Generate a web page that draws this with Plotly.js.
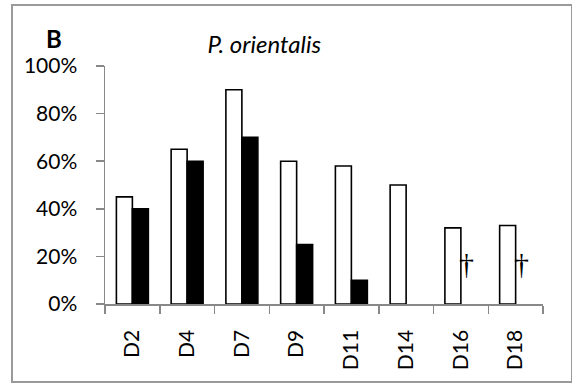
<!DOCTYPE html>
<html>
<head>
<meta charset="utf-8">
<script src="https://cdn.plot.ly/plotly-3.0.1.min.js"></script>
<style>
html,body{margin:0;padding:0;background:#fff;}
#wrap{position:relative;width:572px;height:383px;}
#chart{width:572px;height:383px;}
#frame{position:absolute;left:11px;top:4px;width:558px;height:375px;border:2px solid #9a9a9a;pointer-events:none;}
</style>
</head>
<body>
<div id="wrap"><div id="chart"></div><div id="frame"></div></div>
<script>
const categories = ['D2','D4','D7','D9','D11','D14','D16','D18'];
const seriesA = [0.45, 0.65, 0.90, 0.60, 0.58, 0.50, 0.32, 0.33];
const seriesB = [0.40, 0.60, 0.70, 0.25, 0.10, 0, null, null];
const markCategories = ['D16','D18'];
const markText = ['\u2020','\u2020'];
const markLevel = [0.17, 0.17];
const titleText = '<i>P. orientalis</i>';
const panelLabel = '<b>B</b>';

const FONT = 'Lato, "Open Sans", sans-serif';

const traces = [
  {type:'bar', x:categories, y:seriesA, marker:{color:'#ffffff', line:{color:'#000', width:1.6}}, hoverinfo:'none'},
  {type:'bar', x:categories, y:seriesB, marker:{color:'#000000',
    line:{color:'#000', width:seriesB.map(v => v ? 1.6 : 0)}}, hoverinfo:'none'}
];

const annotations = markCategories.map((c,i)=>({
  x:c, y:markLevel[i], xref:'x', yref:'y', text:markText[i], showarrow:false,
  xanchor:'center', yanchor:'middle',
  xshift:6, font:{family:'"Liberation Serif", serif', size:30, color:'#000'}
}));
annotations.push({x:-0.116, y:1.115, xref:'paper', yref:'paper', text:panelLabel, showarrow:false,
  xanchor:'center', yanchor:'middle',
  font:{family:FONT, size:24, color:'#000'}});

const layout = {
  width:572, height:383,
  margin:{l:105, r:29, t:66, b:79, pad:0},
  paper_bgcolor:'#fff', plot_bgcolor:'#fff',
  showlegend:false,
  barmode:'group', bargap:0.416, bargroupgap:0,
  font:{family:FONT, size:21, color:'#000'},
  title:{text:titleText, xref:'container', yref:'container', x:0.462, xanchor:'center', y:0.8825, yanchor:'middle',
    font:{family:FONT, size:24, color:'#000'}},
  xaxis:{type:'category', tickangle:-90, showline:true, linecolor:'#888', linewidth:1.5,
    ticks:'outside', ticklen:8, tickcolor:'#888', tickwidth:1.5, tickson:'boundaries',
    showgrid:false, zeroline:false, ticklabelstandoff:16,
    tickfont:{family:FONT, size:21, color:'#000'}},
  yaxis:{range:[0,1], dtick:0.2, tick0:0, tickformat:'.0%', showline:true, linecolor:'#888', linewidth:1.5,
    ticks:'outside', ticklen:8, tickcolor:'#888', tickwidth:1.5, showgrid:false, zeroline:false,
    ticklabelstandoff:14, tickfont:{family:FONT, size:21, color:'#000'}},
  annotations:annotations
};

Plotly.newPlot('chart', traces, layout, {staticPlot:true, displayModeBar:false});
</script>
</body>
</html>
